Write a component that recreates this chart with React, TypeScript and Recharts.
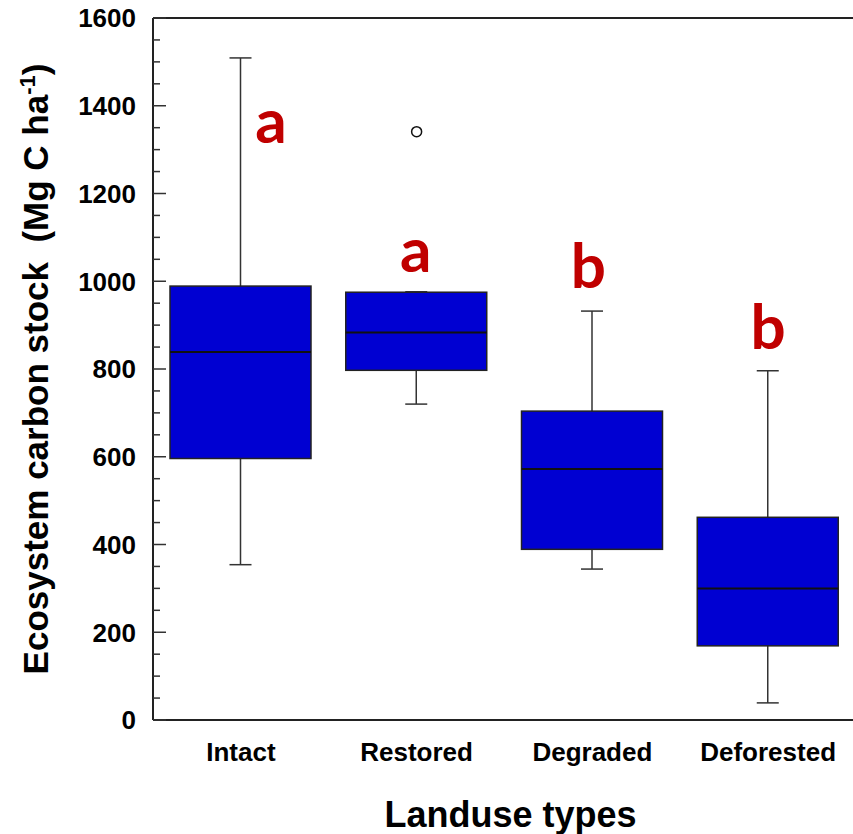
import { ComposedChart, Bar, Scatter, XAxis, YAxis, ReferenceLine, Label } from "recharts";

// box plot stats per land use type (Mg C ha-1)
const categories = ["Intact", "Restored", "Degraded", "Deforested"];
const whiskerLow = [354, 720, 344, 39];
const quartile1 = [596, 797, 389, 169];
const median = [839, 883, 572, 300];
const quartile3 = [989, 975, 704, 462];
const whiskerHigh = [1509, 976, 932, 796];
const outliers = [null, 1341, null, null];

// significance letters and the value where each sits
const groupLetters = ["a", "a", "b", "b"];
const letterAt = [1315, 1021, 985, 846];

const yTickValues = [
  0, 50, 100, 150, 200, 250, 300, 350, 400, 450, 500, 550, 600, 650, 700, 750, 800,
  850, 900, 950, 1000, 1050, 1100, 1150, 1200, 1250, 1300, 1350, 1400, 1450, 1500, 1550, 1600,
];
const yTickLabels = [0, 200, 400, 600, 800, 1000, 1200, 1400, 1600];

const letterDx = [30, -1, -4, 0];
const FONT = "'Liberation Sans', Arial, sans-serif";
const BOX_FILL = "#0000d2";

const data = categories.map((name, i) => ({
  name,
  range: [whiskerLow[i], whiskerHigh[i]],
  lo: whiskerLow[i],
  q1: quartile1[i],
  med: median[i],
  q3: quartile3[i],
  hi: whiskerHigh[i],
  outlier: outliers[i],
  letter: groupLetters[i],
  letterY: letterAt[i],
}));

function BoxShape(props: any) {
  const { x, y, width, height, payload } = props;
  const top = Math.min(y, y + height);
  const h = Math.abs(height);
  const k = h / (payload.hi - payload.lo);
  const py = (v: number) => top + (payload.hi - v) * k;
  const cx = x + width / 2;
  return (
    <g>
      <line x1={cx} x2={cx} y1={py(payload.hi)} y2={py(payload.lo)} stroke="#333" strokeWidth={1.5} />
      <line x1={cx - 11} x2={cx + 11} y1={py(payload.hi)} y2={py(payload.hi)} stroke="#333" strokeWidth={1.5} />
      <line x1={cx - 11} x2={cx + 11} y1={py(payload.lo)} y2={py(payload.lo)} stroke="#333" strokeWidth={1.5} />
      <rect x={x} y={py(payload.q3)} width={width} height={py(payload.q1) - py(payload.q3)} fill={BOX_FILL} stroke="#222" strokeWidth={1.5} />
      <line x1={x} x2={x + width} y1={py(payload.med)} y2={py(payload.med)} stroke="#111" strokeWidth={2} />
    </g>
  );
}

function LetterShape(props: any) {
  const { cx, cy, payload } = props;
  const i = categories.indexOf(payload.name);
  return (
    <text x={cx + letterDx[i]} y={cy} textAnchor="middle" fill="#c00000" fontSize={62} fontWeight={700} fontFamily="Lato, 'Open Sans', sans-serif">
      {payload.letter}
    </text>
  );
}

function OutlierShape(props: any) {
  const { cx, cy } = props;
  if (cy == null || Number.isNaN(cy)) return null;
  return <circle cx={cx} cy={cy} r={5} fill="#fff" stroke="#111" strokeWidth={1.5} />;
}

function LeftTick({ x, y, payload }: any) {
  const major = yTickLabels.includes(payload.value);
  return (
    <g>
      <line x1={x} x2={x + (major ? 13 : 7)} y1={y} y2={y} stroke="#333" strokeWidth={1.5} />
      {major && (
        <text x={x - 17} y={y} dy="0.36em" textAnchor="end" fontSize={26} fontWeight={700} fill="#000" fontFamily={FONT}>
          {payload.value}
        </text>
      )}
    </g>
  );
}

function RightTick({ x, y, payload }: any) {
  const major = yTickLabels.includes(payload.value);
  return <line x1={x} x2={x - (major ? 13 : 7)} y1={y} y2={y} stroke="#333" strokeWidth={1.5} />;
}

function CategoryTick({ x, y, payload }: any) {
  return (
    <text x={x} y={y} textAnchor="middle" fontSize={26} fontWeight={700} fill="#000" fontFamily={FONT}>
      {payload.value}
    </text>
  );
}

export default function App() {
  return (
    <div style={{ width: 853, height: 834, overflow: "hidden", background: "#fff" }}>
      <style>{"body{margin:0}"}</style>
      <ComposedChart width={857} height={834} data={data} margin={{ top: 18, right: 0, left: 0, bottom: 0 }}>
        <XAxis
          dataKey="name"
          type="category"
          height={114}
          tickLine={false}
          tickSize={0}
          tickMargin={41}
          tick={<CategoryTick />}
          axisLine={{ stroke: "#222", strokeWidth: 2 }}
        >
          <Label
            content={({ viewBox }: any) => (
              <text
                x={viewBox.x + viewBox.width / 2 + 6}
                y={viewBox.y + 107}
                textAnchor="middle"
                fontSize={36}
                fontWeight={700}
                fill="#000"
                fontFamily={FONT}
              >
                Landuse types
              </text>
            )}
          />
        </XAxis>
        <YAxis
          yAxisId="left"
          width={153}
          domain={[0, 1600]}
          ticks={yTickValues}
          interval={0}
          tickLine={false}
          tickSize={0}
          tickMargin={0}
          tick={<LeftTick />}
          axisLine={{ stroke: "#222", strokeWidth: 2 }}
        >
          <Label
            content={({ viewBox }: any) => {
              const cy = viewBox.y + viewBox.height / 2;
              return (
                <text
                  x={48}
                  y={cy}
                  transform={`rotate(-90 48 ${cy})`}
                  textAnchor="middle"
                  fontSize={35}
                  fontWeight={700}
                  fill="#000"
                  fontFamily={FONT}
                  style={{ whiteSpace: "pre" }}
                >
                  <tspan>{"Ecosystem carbon stock  (Mg C ha"}</tspan>
                  <tspan dy={-13} fontSize={22}>-1</tspan>
                  <tspan dy={13}>)</tspan>
                </text>
              );
            }}
          />
        </YAxis>
        <YAxis
          yAxisId="right"
          orientation="right"
          width={1}
          domain={[0, 1600]}
          ticks={yTickValues}
          interval={0}
          tickLine={false}
          tickSize={0}
          tickMargin={0}
          tick={<RightTick />}
          axisLine={{ stroke: "#222", strokeWidth: 2 }}
        />
        <ReferenceLine yAxisId="left" y={1600} stroke="#222" strokeWidth={2} />
        <Bar yAxisId="left" dataKey="range" barSize={141} shape={<BoxShape />} isAnimationActive={false} />
        <Scatter yAxisId="left" dataKey="outlier" shape={<OutlierShape />} isAnimationActive={false} />
        <Scatter yAxisId="left" dataKey="letterY" shape={<LetterShape />} isAnimationActive={false} />
      </ComposedChart>
    </div>
  );
}
